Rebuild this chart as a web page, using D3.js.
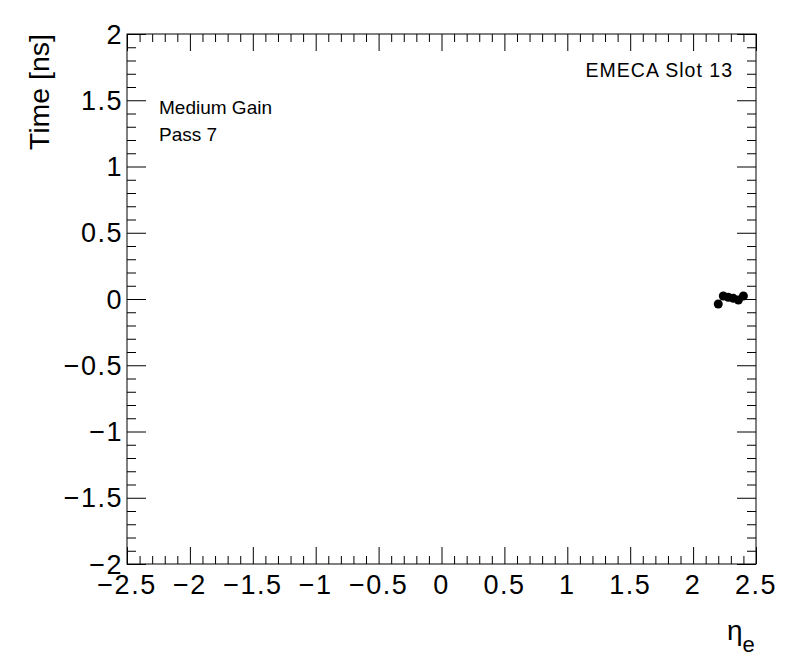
<!DOCTYPE html>
<html><head><meta charset="utf-8">
<script src="https://cdn.jsdelivr.net/npm/d3@7"></script>
<style>body{margin:0;background:#fff}svg{display:block}text{font-family:"Liberation Sans",Arial,Helvetica,sans-serif;fill:#000}</style>
</head><body>
<script>
const etaValues = [2.20, 2.24, 2.28, 2.32, 2.36, 2.40];
const timeValues = [-0.038, 0.023, 0.013, 0.005, -0.008, 0.023];
const xTickValues = [-2.5, -2, -1.5, -1, -0.5, 0, 0.5, 1, 1.5, 2, 2.5];
const yTickValues = [-2, -1.5, -1, -0.5, 0, 0.5, 1, 1.5, 2];
const labels = ["Medium Gain", "Pass 7"];
const titleText = "EMECA Slot 13";

const W = 796, H = 672;
const L = 127, R = 756, T = 34, B = 564;
const svg = d3.select("body").append("svg").attr("width", W).attr("height", H);
const x = d3.scaleLinear().domain([-2.5, 2.5]).range([L, R]);
const y = d3.scaleLinear().domain([-2, 2]).range([B, T]);
const fmt = v => (v < 0 ? "\u2212" : "") + Math.abs(v);

const xMinor = d3.range(-25, 26).map(i => i / 10).filter(v => Math.abs(Math.round(v * 2) - v * 2) > 1e-6);
const yMinor = d3.range(-20, 21).map(i => i / 10).filter(v => Math.abs(Math.round(v * 2) - v * 2) > 1e-6);

function axisG(axis, tr) {
  const g = svg.append("g").attr("transform", tr).call(axis);
  g.select(".domain").remove();
  g.selectAll("line").attr("stroke", "#000").attr("stroke-width", 1);
  return g;
}
// bottom
axisG(d3.axisTop(x).tickValues(xTickValues).tickSize(17).tickFormat(""), `translate(0,${B})`);
axisG(d3.axisTop(x).tickValues(xMinor).tickSize(8).tickFormat(""), `translate(0,${B})`);
// top
axisG(d3.axisBottom(x).tickValues(xTickValues).tickSize(17).tickFormat(""), `translate(0,${T})`);
axisG(d3.axisBottom(x).tickValues(xMinor).tickSize(8).tickFormat(""), `translate(0,${T})`);
// left
axisG(d3.axisRight(y).tickValues(yTickValues).tickSize(19).tickFormat(""), `translate(${L},0)`);
axisG(d3.axisRight(y).tickValues(yMinor).tickSize(9).tickFormat(""), `translate(${L},0)`);
// right
axisG(d3.axisLeft(y).tickValues(yTickValues).tickSize(19).tickFormat(""), `translate(${R},0)`);
axisG(d3.axisLeft(y).tickValues(yMinor).tickSize(9).tickFormat(""), `translate(${R},0)`);

svg.append("rect").attr("x", L).attr("y", T).attr("width", R - L).attr("height", B - T)
  .attr("fill", "none").attr("stroke", "#000").attr("stroke-width", 1);

// tick labels
svg.append("g").selectAll("text").data(xTickValues).join("text")
  .attr("x", d => x(d)).attr("y", 594).attr("text-anchor", "middle")
  .attr("font-size", 27).attr("letter-spacing", 1.5).text(fmt);
svg.append("g").selectAll("text").data(yTickValues).join("text")
  .attr("x", 123).attr("y", d => y(d) + 9.5).attr("text-anchor", "end")
  .attr("font-size", 27).attr("letter-spacing", 1.5).text(fmt);

// axis titles
svg.append("text").attr("transform", `translate(49,${T}) rotate(-90)`)
  .attr("text-anchor", "end").attr("font-size", 28.5).text("Time [ns]");
const xt = svg.append("text").attr("x", 727).attr("y", 640).attr("font-size", 28);
xt.append("tspan").text("\u03b7");
xt.append("tspan").attr("dy", 12).attr("font-size", 22).text("e");

// annotations
svg.append("g").selectAll("text").data(labels).join("text")
  .attr("x", 159).attr("y", (d, i) => 114 + i * 27).attr("font-size", 19).text(d => d);
svg.append("text").attr("x", 733).attr("y", 77).attr("text-anchor", "end")
  .attr("font-size", 19.5).attr("letter-spacing", 1).text(titleText);

// data points
svg.append("g").selectAll("circle").data(etaValues).join("circle")
  .attr("cx", d => x(d)).attr("cy", (d, i) => y(timeValues[i])).attr("r", 4.5).attr("fill", "#000");
</script>
</body></html>
